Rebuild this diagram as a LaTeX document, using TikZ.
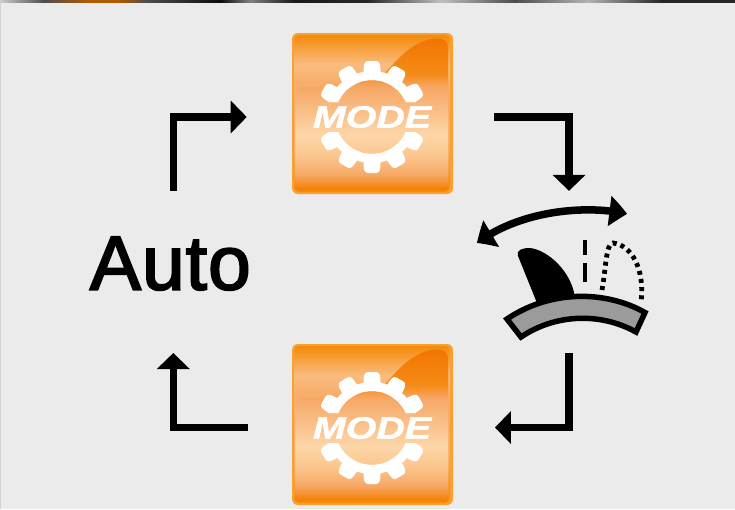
\documentclass[tikz,border=0pt]{standalone}
\usepackage{fontspec}
\usetikzlibrary{arrows.meta,bending}
\newfontfamily\autofont[FakeBold=2.6,LetterSpace=1.5]{Liberation Sans}
\newfontfamily\modefont[BoldItalicFeatures={FakeBold=1.4}]{Liberation Sans}
\definecolor{bgc}{HTML}{EBEBEB}
\definecolor{rimc}{HTML}{F8A030}
\definecolor{o0}{HTML}{F58A0A}
\definecolor{o1}{HTML}{F9BC80}
\definecolor{o2}{HTML}{F8AE6A}
\definecolor{f0}{HTML}{F27500}
\definecolor{f1}{HTML}{F58C18}
\definecolor{f2}{HTML}{F6A765}
\definecolor{f3}{HTML}{FDD6A8}
\definecolor{f4}{HTML}{FBC58C}
\definecolor{f5}{HTML}{F38205}
\definecolor{gaugec}{HTML}{9B9B9B}
\pgfdeclareverticalshading{panelshade}{100bp}{
 color(0bp)=(o0); color(25bp)=(o0); color(40bp)=(o2); color(60bp)=(o2); color(65.5bp)=(o1); color(75bp)=(o0); color(100bp)=(o0)}
\pgfdeclareverticalshading{foldshade}{100bp}{
 color(0bp)=(f5); color(25.5bp)=(f5); color(30bp)=(f2); color(36bp)=(f4); color(43bp)=(f3); color(59bp)=(f2); color(63bp)=(f1); color(75bp)=(f0); color(100bp)=(f0)}
\tikzset{
 conn/.style={line width=7.5pt,-{Triangle[length=16pt,width=32pt]}},
 anchorbox/.style={inner sep=0pt,outer sep=0pt,minimum height=161pt},
 arcarrow/.style={line width=7.5pt,{Triangle[length=17pt,width=30pt,bend]}-{Triangle[length=17pt,width=30pt,bend]}},
 pics/modeicon/.style={code={
  \fill[rimc,rounded corners=6pt] (0,0) rectangle (161,161);
  \shade[shading=panelshade,rounded corners=5pt] (2,2) rectangle (158,159);
  \shade[shading=foldshade] (3.7,60) to[out=-90,in=180] (10,53.7) -- (33,53.7)
     -- (90,44) .. controls (105,26) and (122,6) .. (146,5.3)
     .. controls (152,5.3) and (156,9) .. (156,14) -- (156,157) -- (3.7,157) -- cycle;
  \begin{scope}[shift={(80,84)}]
   \begin{scope}
    \clip (-100,-100) rectangle (100,-15) (-100,15) rectangle (100,100);
    \clip (-100,-100) -- (100,-100) -- (100,0) -- (37,0) arc[start angle=0,delta angle=-360,radius=37] -- (100,0) -- (100,100) -- (-100,100) -- cycle;
    \fill[white] (0,0) circle (46);
    \foreach \a in {30,60,90,120,150,-30,-60,-90,-120,-150}{
     \fill[white,rotate=\a,rounded corners=3pt] (35,-8.5) -- (50,-8.5) -- (56,-7) -- (56,7) -- (50,8.5) -- (35,8.5) -- cycle;
    }
   \end{scope}
   \node[white,inner sep=0pt,xscale=1.27,font=\modefont\fontsize{31}{31}\itshape\bfseries] at (0,0) {MODE};
  \end{scope}
 }}
}
\begin{document}
\begin{tikzpicture}[x=1pt,y=-1pt]
\useasboundingbox (0,0) rectangle (735,509);
\fill[bgc] (0,0) rectangle (735,509);
\fill[gray!35] (0,0) rectangle (1,509);
\pgfdeclarehorizontalshading{stripshade}{100bp}{
 color(0bp)=(gray!40!white); color(25bp)=(gray!40!white); color(28bp)=(black!70); color(31bp)=(orange!70!black); color(33bp)=(orange!70!black); color(35bp)=(black!70);
 color(40bp)=(black!95); color(42bp)=(gray); color(45bp)=(black!90); color(50bp)=(black!85); color(55bp)=(gray!50); color(60bp)=(black!70); color(65bp)=(gray!60); color(70bp)=(black!85); color(100bp)=(black!85)}
\shade[shading=stripshade] (0,0) rectangle (735,2);

% layout anchors
\node[anchorbox,minimum width=247.6pt] (mode1) at (370.5,117) {};
\node[anchorbox,minimum width=246.7pt] (mode2) at (371.6,427.5) {};
\node[inner sep=0pt,outer sep=0pt,minimum width=150pt,minimum height=162.3pt] (dial) at (569,272) {};
\node[inner sep=0pt,outer sep=0pt,minimum height=162pt,font=\autofont\fontsize{76.5}{76.5}\selectfont] (auto) at (173.3,272) {\raisebox{-17.5pt}[0pt][0pt]{\hspace*{-6pt}Auto}};

% icons
\pic at (292,33) {modeicon};
\pic at (292,344) {modeicon};

% connectors
\draw[conn] (auto.north) |- (mode1.west);
\draw[conn] (mode1.east) -| (dial.north);
\draw[conn] (dial.south) |- (mode2.east);
\draw[conn] (mode2.west) -| (auto.south);

% dial
\fill[black] (537,303) -- (518,256) .. controls (516,250) and (522,248) .. (530,248)
  .. controls (548,250) and (572,272) .. (575,298) -- cycle;
\draw[line width=5.5pt,fill=gaugec,line join=miter]
  (507,319) .. controls (550,290) and (605,290) .. (645,312.5)
  -- (636,332) .. controls (600,312) and (555,314) .. (521,337) -- cycle;
\draw[line width=4.8pt] (585,240) -- (585,255) (585,263) -- (585,282);
\draw[line width=4.8pt,dash pattern=on 4pt off 4.2pt]
  (602,290) .. controls (606,268) and (606,243) .. (613,243)
  .. controls (632,245) and (645,270) .. (641,302);
\coordinate (arcl) at (477,243);
\coordinate (arcr) at (627,214);
\draw[arcarrow] (arcl) .. controls (522,209) and (590,205) .. (arcr);
\end{tikzpicture}
\end{document}
